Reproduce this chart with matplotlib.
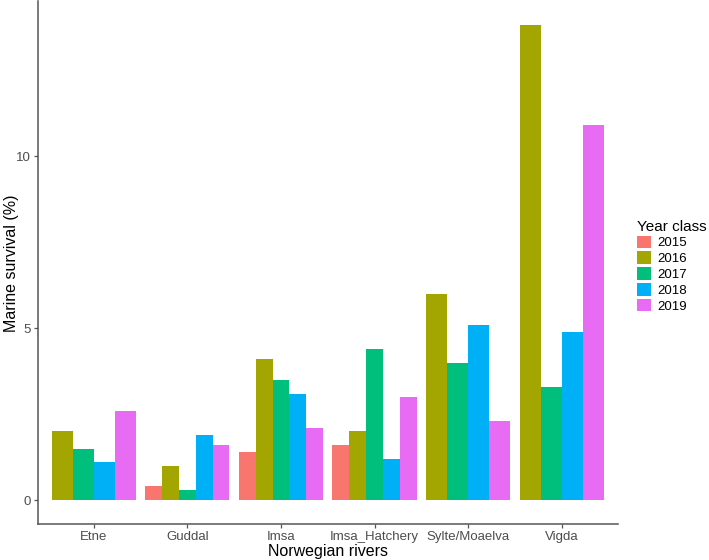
import numpy as np
import matplotlib.pyplot as plt
from matplotlib.patches import Patch

plt.rcParams['font.family'] = ['Liberation Sans', 'DejaVu Sans']

rivers = ['Etne', 'Guddal', 'Imsa', 'Imsa_Hatchery', 'Sylte/Moaelva', 'Vigda']
years = ['2015', '2016', '2017', '2018', '2019']
colors = ['#F8766D', '#A3A500', '#00BF7D', '#00B0F6', '#E76BF3']

# marine survival (%) per year class, None = no data
s2015 = [None, 0.4, 1.4, 1.6, None, None]
s2016 = [2.0, 1.0, 4.1, 2.0, 6.0, 13.8]
s2017 = [1.5, 0.3, 3.5, 4.4, 4.0, 3.3]
s2018 = [1.1, 1.9, 3.1, 1.2, 5.1, 4.9]
s2019 = [2.6, 1.6, 2.1, 3.0, 2.3, 10.9]
series = [s2015, s2016, s2017, s2018, s2019]

W, H = 709, 560
fig = plt.figure(figsize=(W / 100, H / 100), dpi=100)
ax = fig.add_axes([37.5 / W, (H - 524) / H, (618 - 37.5) / W, (524 - 1.5) / H])

# dodge like ggplot: present bars share the 0.9 slot
for i, river in enumerate(rivers):
    present = [k for k in range(len(years)) if series[k][i] is not None]
    n = len(present)
    w = 0.9 / n
    for j, k in enumerate(present):
        x = i + 1 - 0.45 + w * (j + 0.5)
        ax.bar(x, series[k][i], width=w, color=colors[k], linewidth=0)

ymax = max(max(v for v in s if v is not None) for s in series)
ax.set_ylim(-0.05 * ymax, ymax * 1.05)
ax.set_xlim(0.4, len(rivers) + 0.6)
ax.set_xticks(range(1, len(rivers) + 1))
ax.set_xticklabels(rivers)
ax.set_yticks([0, 5, 10])

for side in ['top', 'right']:
    ax.spines[side].set_visible(False)
for side in ['left', 'bottom']:
    ax.spines[side].set_color('#555555')
    ax.spines[side].set_linewidth(1.1)
ax.tick_params(colors='#555555', labelcolor='#4D4D4D', labelsize=9.5, length=3, width=0.9, pad=2)

ax.set_xlabel('Norwegian rivers', fontsize=11.5, labelpad=1)
ax.set_ylabel('Marine survival (%)', fontsize=11.5)
ax.yaxis.set_label_coords((19 - 37.5) / (618 - 37.5), 0.5)

handles = [Patch(facecolor=c, edgecolor='none') for c in colors]
leg = fig.legend(handles, years, title='Year class', loc='upper left',
                 bbox_to_anchor=(630 / W, 1 - 213 / H), frameon=False,
                 fontsize=9.5, title_fontsize=11, handlelength=1.1, handleheight=1.1,
                 labelspacing=0.15, handletextpad=0.5, borderpad=0)
leg._legend_box.align = 'left'

fig.savefig('out.png', dpi=100)
